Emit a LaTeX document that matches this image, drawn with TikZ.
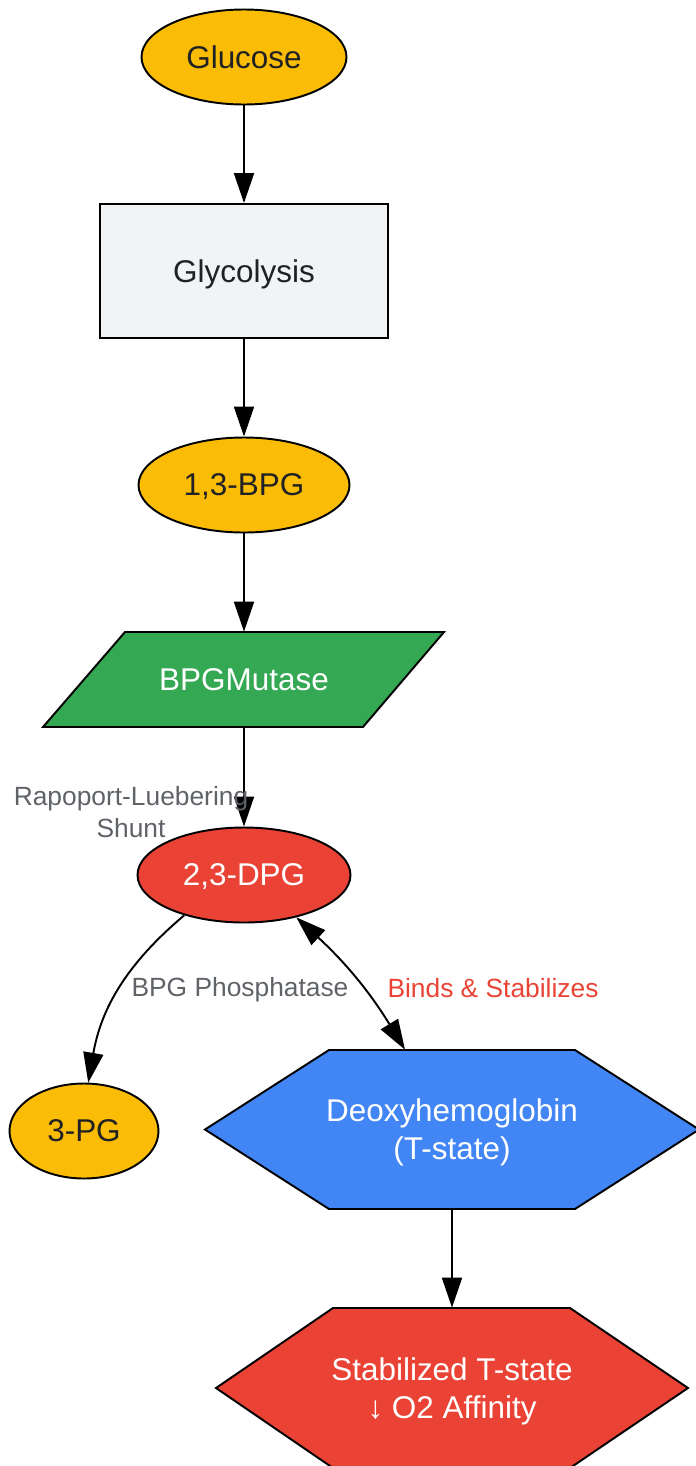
\documentclass[tikz,border=0pt]{standalone}
\usepackage{fontspec}
\setmainfont{Liberation Sans}
\usetikzlibrary{shapes.geometric,arrows.meta}

\definecolor{gyellow}{HTML}{FBBC05}
\definecolor{ggray}{HTML}{F1F3F4}
\definecolor{ggreen}{HTML}{34A853}
\definecolor{gred}{HTML}{EA4335}
\definecolor{gblue}{HTML}{4285F4}
\definecolor{lblgray}{HTML}{5F6368}
\definecolor{txtdark}{HTML}{202124}

\newcommand{\nodefont}{\fontsize{17.9}{21.6}\selectfont}
\newcommand{\lblfont}{\fontsize{15}{17.8}\selectfont}

\tikzset{
  outline/.style={draw=black, line width=1.1pt},
  metab/.style={outline, ellipse, fill=gyellow, text=txtdark, font=\nodefont,
    inner sep=0pt, text depth=0pt, minimum height=1.9cm},
  process/.style={outline, rectangle, fill=ggray, text=txtdark, font=\nodefont,
    inner sep=0pt, text depth=0pt},
  plain/.style={rectangle, inner sep=0pt, text=white, font=\nodefont, align=center,
    text depth=0pt},
  flow/.style={line width=1.1pt, -{Triangle[length=0.6cm,width=0.4cm]}},
  edgelbl/.style={font=\lblfont, text=lblgray, align=center, inner sep=0pt}
}

\begin{document}
\begin{tikzpicture}

\useasboundingbox (0,0) rectangle (13.9,-29.32);

% upper chain
\node[metab, minimum width=4.1cm] (glucose) at (4.88,-1.14) {Glucose};
\node[process, minimum width=5.76cm, minimum height=2.68cm] (glycolysis) at (4.88,-5.42) {Glycolysis};
\node[metab, minimum width=4.22cm] (bpg13) at (4.88,-9.70) {1,3-BPG};

\filldraw[outline, fill=ggreen] (2.5,-12.64) -- (8.88,-12.64) -- (7.26,-14.54) -- (0.86,-14.54) -- cycle;
\node[plain, minimum width=6.38cm, minimum height=1.9cm] (mutase) at (4.88,-13.59) {BPGMutase};

\node[metab, fill=gred, text=white, minimum width=4.26cm] (dpg) at (4.88,-17.5) {2,3-DPG};
\node[metab, minimum width=2.98cm] (pg3) at (1.68,-22.62) {3-PG};

% hexagons
\filldraw[outline, fill=gblue] (4.10,-22.59) -- (6.58,-21.0) -- (11.50,-21.0) -- (13.98,-22.59)
  -- (11.50,-24.18) -- (6.58,-24.18) -- cycle;
\node[plain, minimum width=9.8cm, minimum height=3.18cm] (deoxy) at (9.04,-22.59) {Deoxyhemoglobin\\(T-state)};

\filldraw[outline, fill=gred] (4.32,-27.76) -- (6.66,-26.16) -- (11.40,-26.16) -- (13.76,-27.76)
  -- (11.40,-29.36) -- (6.66,-29.36) -- cycle;
\node[plain, minimum width=9.44cm, minimum height=3.2cm] (stab) at (9.04,-27.76) {Stabilized T-state\\↓ O2 Affinity};

% connectors
\draw[flow] (glucose) -- (glycolysis);
\draw[flow] (glycolysis) -- (bpg13);
\draw[flow] (bpg13) -- (mutase);
\draw[flow] (mutase) -- (dpg);
\draw[flow] (dpg.-146) to[bend right=20] (pg3.85);
\draw[flow, {Triangle[length=0.6cm,width=0.4cm]}-{Triangle[length=0.6cm,width=0.4cm]}]
  (dpg.-39) to[bend left=8] ([xshift=-0.94cm]deoxy.north);
\draw[flow] (deoxy) -- (stab);

% labels
\node[edgelbl] (shunt) at (2.62,-16.24) {Rapoport-Luebering\\Shunt};
\node[edgelbl] (phos) at (4.80,-19.80) {BPG Phosphatase};
\node[edgelbl, text=gred] (binds) at (9.86,-19.76) {Binds \& Stabilizes};

\end{tikzpicture}
\end{document}
